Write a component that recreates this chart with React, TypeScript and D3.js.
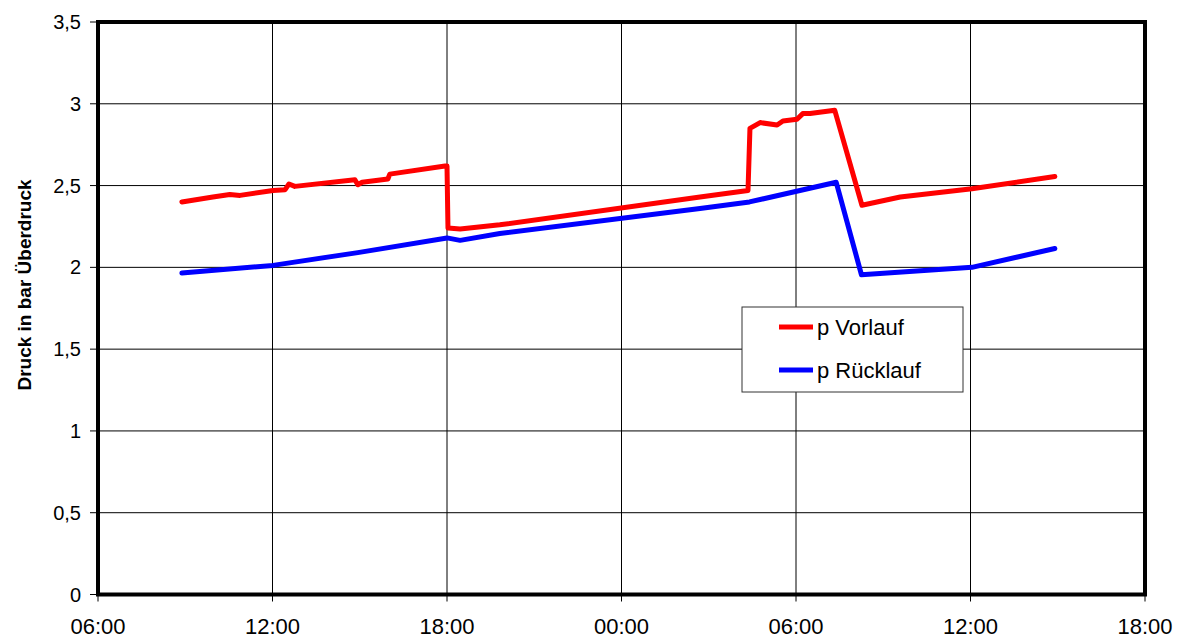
import React from "react";
import * as d3 from "d3";

// Pressure readings, time given as "day HH:MM" (day 1 = first day of the record)
const vorlauf: [string, number][] = [
  ["1 08:53", 2.4],
  ["1 09:57", 2.43],
  ["1 10:32", 2.445],
  ["1 10:53", 2.44],
  ["1 12:01", 2.47],
  ["1 12:26", 2.475],
  ["1 12:34", 2.51],
  ["1 12:46", 2.495],
  ["1 14:50", 2.535],
  ["1 14:56", 2.505],
  ["1 15:05", 2.52],
  ["1 15:58", 2.54],
  ["1 16:02", 2.57],
  ["1 17:56", 2.62],
  ["1 18:00", 2.62],
  ["1 18:02", 2.24],
  ["1 18:27", 2.235],
  ["1 19:49", 2.26],
  ["2 02:42", 2.43],
  ["2 04:21", 2.47],
  ["2 04:25", 2.85],
  ["2 04:46", 2.885],
  ["2 05:21", 2.87],
  ["2 05:33", 2.895],
  ["2 06:02", 2.905],
  ["2 06:14", 2.94],
  ["2 06:29", 2.94],
  ["2 07:20", 2.96],
  ["2 08:16", 2.38],
  ["2 09:35", 2.43],
  ["2 12:03", 2.48],
  ["2 14:54", 2.555],
];

const ruecklauf: [string, number][] = [
  ["1 08:53", 1.965],
  ["1 12:01", 2.012],
  ["1 14:56", 2.09],
  ["1 18:00", 2.18],
  ["1 18:27", 2.165],
  ["1 19:49", 2.207],
  ["2 02:42", 2.36],
  ["2 04:24", 2.4],
  ["2 07:23", 2.52],
  ["2 08:15", 1.955],
  ["2 12:03", 2.0],
  ["2 14:54", 2.115],
];

const yTicks = [0, 0.5, 1, 1.5, 2, 2.5, 3, 3.5];
const xStart = "1 06:00";
const xEnd = "2 18:00";
const yTitle = "Druck in bar Überdruck";
const seriesNames = ["p Vorlauf", "p Rücklauf"];
const seriesColors = ["#ff0000", "#0000ff"];

const parseStamp = (s: string): Date => {
  const [day, hm] = s.split(" ");
  const [h, m] = hm.split(":").map(Number);
  return new Date(2000, 0, Number(day), h, m);
};

const W = 1181;
const H = 639;
const plot = { left: 98, right: 1145, top: 22, bottom: 594.5 };
const font = "'Liberation Sans', Arial, sans-serif";

export default function App() {
  const x = d3
    .scaleTime()
    .domain([parseStamp(xStart), parseStamp(xEnd)])
    .range([plot.left, plot.right]);
  const y = d3.scaleLinear().domain([0, 3.5]).range([plot.bottom, plot.top]);
  const xTicks = x.ticks(d3.timeHour.every(6)!);
  const fmt = d3.timeFormat("%H:%M");
  const fmtY = (v: number) => String(v).replace(".", ",");

  const line = d3
    .line<[string, number]>()
    .x((d) => x(parseStamp(d[0])))
    .y((d) => y(d[1]));

  const series = [vorlauf, ruecklauf];

  const legend = { x: 742, y: 307, w: 221, h: 85 };

  return (
    <svg
      width={W}
      height={H}
      style={{ position: "absolute", left: 0, top: 0, background: "#fff" }}
      fontFamily={font}
    >
      <rect x={0} y={0} width={W} height={H} fill="#fff" />
      {/* grid */}
      {yTicks.map((t) => (
        <line
          key={"gy" + t}
          x1={plot.left}
          x2={plot.right}
          y1={y(t)}
          y2={y(t)}
          stroke="#000"
          strokeWidth={1}
        />
      ))}
      {xTicks.map((t) => (
        <line
          key={"gx" + t.getTime()}
          x1={x(t)}
          x2={x(t)}
          y1={plot.top}
          y2={plot.bottom}
          stroke="#000"
          strokeWidth={1}
        />
      ))}
      {/* axis ticks */}
      {yTicks.map((t) => (
        <line
          key={"ty" + t}
          x1={plot.left - 8}
          x2={plot.left}
          y1={y(t)}
          y2={y(t)}
          stroke="#000"
          strokeWidth={1}
        />
      ))}
      {xTicks.map((t) => (
        <line
          key={"tx" + t.getTime()}
          x1={x(t)}
          x2={x(t)}
          y1={plot.bottom}
          y2={plot.bottom + 7}
          stroke="#000"
          strokeWidth={1}
        />
      ))}
      {/* tick labels */}
      {yTicks.map((t) => (
        <text
          key={"ly" + t}
          x={81}
          y={y(t)}
          dy="0.35em"
          textAnchor="end"
          fontSize={20}
          fill="#000"
        >
          {fmtY(t)}
        </text>
      ))}
      {xTicks.map((t) => (
        <text
          key={"lx" + t.getTime()}
          x={x(t)}
          y={634}
          textAnchor="middle"
          fontSize={22}
          fill="#000"
        >
          {fmt(t)}
        </text>
      ))}
      <text
        transform={`translate(31, ${285}) rotate(-90)`}
        textAnchor="middle"
        fontSize={19}
        fontWeight="bold"
        fill="#000"
      >
        {yTitle}
      </text>
      {/* data */}
      {series.map((s, i) => (
        <path
          key={"s" + i}
          d={line(s) ?? ""}
          fill="none"
          stroke={seriesColors[i]}
          strokeWidth={5}
          strokeLinejoin="round"
          strokeLinecap="round"
        />
      ))}
      {/* plot frame */}
      <rect
        x={plot.left}
        y={plot.top}
        width={plot.right - plot.left}
        height={plot.bottom - plot.top}
        fill="none"
        stroke="#000"
        strokeWidth={4}
      />
      {/* legend */}
      <rect
        x={legend.x}
        y={legend.y}
        width={legend.w}
        height={legend.h}
        fill="#fff"
        stroke="#333"
        strokeWidth={1}
      />
      {seriesNames.map((n, i) => {
        const ly = 327 + i * 43;
        return (
          <g key={"lg" + i}>
            <line
              x1={779}
              x2={813}
              y1={ly}
              y2={ly}
              stroke={seriesColors[i]}
              strokeWidth={5}
            />
            <text x={817} y={ly} dy="0.35em" fontSize={22} fill="#000">
              {n}
            </text>
          </g>
        );
      })}
    </svg>
  );
}
